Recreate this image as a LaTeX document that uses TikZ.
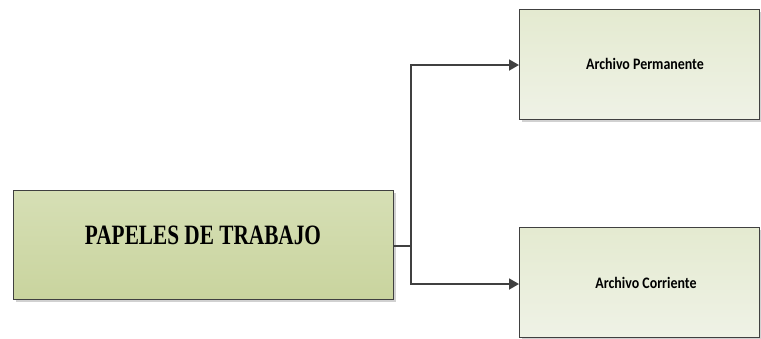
\documentclass[tikz,border=0pt]{standalone}
\usepackage{fontspec}
\usetikzlibrary{arrows.meta,shadows}
\newfontfamily\condserif[FakeStretch=0.76]{Liberation Serif}
\newfontfamily\carl[FakeStretch=0.87]{Carlito}
\definecolor{edgegray}{HTML}{404040}
\definecolor{maintop}{HTML}{D6DFB5}
\definecolor{mainbot}{HTML}{C9D49E}
\definecolor{subtop}{HTML}{E4EAD0}
\definecolor{subbot}{HTML}{EFF2E6}
\tikzset{
  box/.style={draw=edgegray, line width=0.9pt, anchor=north west, inner sep=0pt,
    drop shadow={shadow xshift=2.5pt, shadow yshift=-2.5pt, fill=black!18, opacity=1}},
  mainbox/.style={box, top color=maintop, bottom color=mainbot, minimum width=380pt, minimum height=109pt},
  subbox/.style={box, top color=subtop, bottom color=subbot, minimum width=240pt, minimum height=110pt},
  conn/.style={draw=edgegray, line width=1.8pt, -{Triangle[length=10pt,width=11pt]}},
  maintext/.style={font=\condserif\fontsize{28}{30}\selectfont\bfseries, text=black},
  subtext/.style={font=\carl\fontsize{16}{18}\selectfont\bfseries, text=black}
}
\begin{document}
\begin{tikzpicture}[x=1pt,y=-1pt]
\useasboundingbox (0,0) rectangle (761,338);
\node[mainbox] (main) at (13,190) {};
\node[subbox] (top) at (519,9) {};
\node[subbox] (bot) at (519,227) {};
\node[maintext] (mt) at (203,235) {PAPELES DE TRABAJO};
\node[subtext] (tt) at (645,64) {Archivo Permanente};
\node[subtext] (bt) at (646,283) {Archivo Corriente};
\coordinate (j) at (411,246);
\coordinate (ms) at (main.east |- j);
\coordinate (ta) at (top.west |- 0,65);
\coordinate (ba) at (bot.west |- 0,284);
\draw[draw=edgegray, line width=1.8pt] (ms) -- (j);
\draw[conn] (j) |- (ta);
\draw[conn] (j) |- (ba);
\end{tikzpicture}
\end{document}
